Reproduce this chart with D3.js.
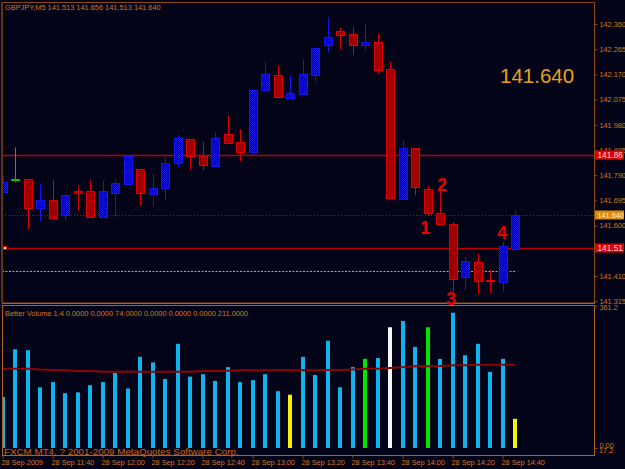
<!DOCTYPE html>
<html>
<head>
<meta charset="utf-8">
<script src="https://cdn.jsdelivr.net/npm/d3@7"></script>
<style>
    html, body { margin: 0; padding: 0; background: #040418; }
    svg { display: block; }
</style>
</head>
<body>
<script>
// Bars of GBPJPY M5, 28 Sep 2009 11:20 .. 14:45
const opens  = [141.729, 141.775, 141.776, 141.664, 141.696, 141.640, 141.732, 141.729, 141.632, 141.722,
                141.757, 141.813, 141.720, 141.742, 141.837, 141.925, 141.864, 141.826, 141.944, 141.914,
                141.877, 142.111, 142.168, 142.082, 142.097, 142.168, 142.278, 142.334, 142.322, 142.282,
                142.292, 142.190, 141.701, 141.891, 141.738, 141.647, 141.606, 141.406, 141.463, 141.394,
                141.388, 141.513];
const highs  = [141.787, 141.895, 141.776, 141.756, 141.771, 141.716, 141.753, 141.771, 141.769, 141.775,
                141.864, 141.813, 141.796, 141.857, 141.941, 141.925, 141.915, 141.953, 142.013, 141.964,
                142.110, 142.218, 142.203, 142.165, 142.226, 142.271, 142.385, 142.345, 142.348, 142.363,
                142.322, 142.218, 141.923, 141.891, 141.749, 141.727, 141.614, 141.482, 141.493, 141.435,
                141.539, 141.656];
const lows   = [141.723, 141.764, 141.587, 141.617, 141.625, 141.621, 141.656, 141.632, 141.630, 141.634,
                141.757, 141.674, 141.675, 141.693, 141.822, 141.810, 141.810, 141.826, 141.910, 141.842,
                141.867, 142.109, 142.086, 142.082, 142.092, 142.139, 142.254, 142.266, 142.242, 142.259,
                142.174, 141.705, 141.696, 141.714, 141.636, 141.606, 141.350, 141.356, 141.341, 141.346,
                141.351, 141.513];
const closes = [141.766, 141.775, 141.667, 141.696, 141.630, 141.714, 141.724, 141.632, 141.730, 141.761,
                141.864, 141.722, 141.743, 141.837, 141.930, 141.860, 141.830, 141.931, 141.910, 141.877,
                142.110, 142.171, 142.086, 142.099, 142.171, 142.271, 142.310, 142.320, 142.282, 142.292,
                142.188, 141.705, 141.893, 141.743, 141.646, 141.606, 141.400, 141.467, 141.391, 141.390,
                141.523, 141.640];

// Better Volume 1.4
const volumes = [129, 250, 248, 154, 167, 139, 141, 159, 167, 190,
                 151, 231, 217, 175, 264, 181, 187, 170, 205, 167,
                 172, 187, 144, 135, 231, 185, 272, 154, 205, 226,
                 228, 306, 322, 256, 306, 226, 343, 235, 264, 193,
                 226, 74];
const volumeTypes = ["n", "n", "n", "n", "n", "n", "n", "n", "n", "n",
                     "n", "n", "n", "n", "n", "n", "n", "n", "n", "n",
                     "n", "n", "n", "low", "n", "n", "n", "n", "n", "churn",
                     "n", "climax", "n", "n", "churn", "n", "n", "n", "n", "n",
                     "n", "low"];
const volumeAvg = [201, 201, 201, 199, 198, 197, 195, 195, 193, 193,
                   193, 193, 193, 193, 193, 193, 195, 195, 196, 197,
                   197, 197, 197, 197, 197, 197, 198, 198, 199, 201,
                   201, 203, 205, 207, 207, 208, 210, 210, 211, 211,
                   211, 211];

const priceTicks = [142.360, 142.265, 142.170, 142.075, 141.980, 141.885,
                    141.790, 141.695, 141.600, 141.505, 141.410, 141.315];
const hiddenTicks = [141.505]; // covered by the line tag
const timeTickBars = [0, 4, 8, 12, 16, 20, 24, 28, 32, 36, 40];
const timeLabels = ["28 Sep 2009", "28 Sep 11:40", "28 Sep 12:00", "28 Sep 12:20", "28 Sep 12:40",
                    "28 Sep 13:00", "28 Sep 13:20", "28 Sep 13:40", "28 Sep 14:00", "28 Sep 14:20",
                    "28 Sep 14:40"];

// horizontal objects drawn on the chart
const hLinePrices = [141.867, 141.516];
const hLineLabels = ["141.86", "141.51"];
const bidPrice = 141.640;
const dashedPrice = 141.430;

// hand written wave marks
const markTexts = ["1", "2", "3", "4"];
const markBars = [33.8, 35.16, 35.88, 39.96];
const markPrices = [141.568, 141.732, 141.301, 141.549];

const W = 625, H = 469;
const FRAME = "#8e4816";
const TXT = "#d2781e";
const FONT = "'Liberation Sans', Arial, sans-serif";

const priceY = d3.scaleLinear().domain([141.315, 142.360]).range([301.2, 24]);
const barX = d3.scaleLinear().domain([0, 41]).range([2.5, 515]);
const volY = d3.scaleLinear().domain([0, 361.2]).range([448, 305.5]);

const volColor = d3.scaleOrdinal()
    .domain(["n", "low", "churn", "climax"])
    .range(["#10b4ec", "#f4f400", "#00e400", "#f4f4f4"]);

const svg = d3.select("body").append("svg")
    .attr("width", W).attr("height", H)
    .style("font-family", FONT);

svg.append("rect").attr("width", W).attr("height", H).attr("fill", "#040418");

const defs = svg.append("defs");
// dithered fill for the candle bodies
function hatch(id, c) {
    const p = defs.append("pattern").attr("id", id)
        .attr("patternUnits", "userSpaceOnUse").attr("width", 2).attr("height", 2);
    p.append("rect").attr("width", 2).attr("height", 2).attr("fill", "#0a0420");
    p.append("rect").attr("x", 0).attr("y", 0).attr("width", 1).attr("height", 1).attr("fill", c);
    p.append("rect").attr("x", 1).attr("y", 1).attr("width", 1).attr("height", 1).attr("fill", c);
}
hatch("hatchBlue", "#1818e0");
hatch("hatchRed", "#b80000");

defs.append("clipPath").attr("id", "clipMain")
    .append("rect").attr("x", 3).attr("y", 3).attr("width", 591).attr("height", 300);
defs.append("clipPath").attr("id", "clipVol")
    .append("rect").attr("x", 3).attr("y", 306).attr("width", 591).attr("height", 149);

// ---- main window ----
const main = svg.append("g").attr("clip-path", "url(#clipMain)");

// horizontal lines
main.selectAll("line.hl").data(hLinePrices).join("line")
    .attr("class", "hl")
    .attr("x1", 2).attr("x2", 594)
    .attr("y1", (d) => Math.round(priceY(d)) + 0.5)
    .attr("y2", (d) => Math.round(priceY(d)) + 0.5)
    .attr("stroke", "#b80000").attr("stroke-width", 1.4);

main.append("line")
    .attr("x1", 2).attr("x2", 594)
    .attr("y1", Math.round(priceY(bidPrice)) + 0.5).attr("y2", Math.round(priceY(bidPrice)) + 0.5)
    .attr("stroke", "#4a3a30").attr("stroke-dasharray", "1,2");

main.append("line")
    .attr("x1", 2).attr("x2", barX(41))
    .attr("y1", Math.round(priceY(dashedPrice)) + 0.5).attr("y2", Math.round(priceY(dashedPrice)) + 0.5)
    .attr("stroke", "#a8a8a8").attr("stroke-width", 1.2).attr("stroke-dasharray", "2,1.5");

// candles
const candles = main.append("g").selectAll("g")
    .data(d3.range(opens.length))
    .join("g");

function candleColor(i) {
    if (opens[i] === closes[i]) return "#00c000";
    return closes[i] > opens[i] ? "#1414f0" : "#dc0000";
}

candles.append("line")
    .attr("x1", (i) => Math.round(barX(i)) + 0.5)
    .attr("x2", (i) => Math.round(barX(i)) + 0.5)
    .attr("y1", (i) => priceY(highs[i]))
    .attr("y2", (i) => priceY(lows[i]))
    .attr("stroke", candleColor);

candles.append("rect")
    .attr("x", (i) => Math.round(barX(i)) - 3.5)
    .attr("width", 8)
    .attr("y", (i) => Math.round(priceY(Math.max(opens[i], closes[i]))) + 0.5)
    .attr("height", (i) => Math.max(1, Math.round(Math.abs(priceY(opens[i]) - priceY(closes[i])))))
    .attr("fill", (i) => closes[i] > opens[i] ? "url(#hatchBlue)" : "url(#hatchRed)")
    .attr("stroke", candleColor);

// left end marker of the lower red line
main.append("rect")
    .attr("x", 3.5).attr("y", Math.round(priceY(hLinePrices[1])) - 1.5)
    .attr("width", 3).attr("height", 3)
    .attr("fill", "#ffffff").attr("stroke", "#e00000");

// big bid text
svg.append("text")
    .attr("x", 500).attr("y", 83)
    .attr("fill", "#eaa21a")
    .style("font-size", "20.5px")
    .text(d3.format(".3f")(bidPrice));

// title
svg.append("text")
    .attr("x", 5).attr("y", 10)
    .attr("fill", TXT).style("font-size", "7.4px")
    .text("GBPJPY,M5  " + [opens[41], highs[41], lows[41], closes[41]].map(d3.format(".3f")).join(" "));

// ---- volume window ----
const vol = svg.append("g").attr("clip-path", "url(#clipVol)");

vol.selectAll("rect").data(volumes).join("rect")
    .attr("x", (d, i) => Math.round(barX(i)) - 2)
    .attr("width", 4)
    .attr("y", (d) => volY(d))
    .attr("height", (d) => volY(0) - volY(d))
    .attr("fill", (d, i) => volColor(volumeTypes[i]));

vol.append("path")
    .datum(volumeAvg)
    .attr("d", d3.line().x((d, i) => barX(i)).y((d) => volY(d)))
    .attr("fill", "none")
    .attr("stroke", "#8a0606")
    .attr("stroke-width", 2);

svg.append("text")
    .attr("x", 5).attr("y", 316)
    .attr("fill", TXT).style("font-size", "7.4px")
    .text("Better Volume 1.4 0.0000 0.0000 " + d3.format(".4f")(volumes[41]) +
          " 0.0000 0.0000 0.0000 " + d3.format(".4f")(volumeAvg[41]));

svg.append("text")
    .attr("x", 4).attr("y", 455)
    .attr("fill", "#c86414").style("font-size", "9.8px")
    .text("FXCM MT4, ? 2001-2009 MetaQuotes Software Corp.");

// ---- frames ----
const frame = svg.append("g").attr("fill", "none").attr("stroke", FRAME);
frame.append("rect").attr("x", 2.5).attr("y", 2.5).attr("width", 592).attr("height", 300.5);
frame.append("line").attr("x1", 2).attr("x2", 2).attr("y1", 2).attr("y2", 303)
    .attr("stroke", "#6a3008").attr("stroke-width", 2);
frame.append("rect").attr("x", 2.5).attr("y", 305.5).attr("width", 592).attr("height", 150)
    .attr("stroke", "#b0621a");
frame.append("line").attr("x1", 2).attr("x2", 595).attr("y1", 303.5).attr("y2", 303.5)
    .attr("stroke", "#b0621a");

// ---- axes ----
function styleAxis(g) {
    g.selectAll(".domain").remove();
    g.selectAll("line").attr("stroke", FRAME);
    g.selectAll("text").attr("fill", TXT).style("font-size", "7.3px").style("font-family", FONT);
}

svg.append("g")
    .attr("transform", "translate(594.5,0)")
    .call(d3.axisRight(priceY).tickValues(priceTicks)
        .tickFormat((d) => (hiddenTicks.includes(d) ? "" : d3.format(".3f")(d)))
        .tickSize(3).tickPadding(2))
    .call(styleAxis);

svg.append("g")
    .attr("transform", "translate(594.5,0)")
    .call(d3.axisRight(volY).tickValues([361.2, 0])
        .tickFormat((d) => (d === 0 ? "0.00" : d3.format(".1f")(d)))
        .tickSize(3).tickPadding(2))
    .call(styleAxis)
    .call((g) => g.selectAll("text").attr("dy", (d) => (d === 0 ? "-0.1em" : "0.6em")));

svg.append("text")
    .attr("x", 599).attr("y", 453)
    .attr("fill", TXT).style("font-size", "7.3px")
    .text("17.2");

const tAxis = svg.append("g")
    .attr("transform", "translate(0,455.5)")
    .call(d3.axisBottom(barX).tickValues(timeTickBars)
        .tickFormat((d, i) => timeLabels[i]).tickSize(3).tickPadding(1))
    .call(styleAxis);
tAxis.selectAll("line").attr("transform", (d) => "translate(" + (Math.round(barX(d)) - barX(d) - 0.5) + ",0)");
tAxis.selectAll("text").attr("text-anchor", "start").attr("dx", "-1.5");

// ---- price labels on the axis ----
const tags = svg.append("g");
function priceTag(price, text, bg, fg, size) {
    const y = Math.round(priceY(price));
    tags.append("rect").attr("x", 595).attr("y", y - 4.5).attr("width", 29).attr("height", 9).attr("fill", bg);
    tags.append("text").attr("x", 597.5).attr("y", y + 3.3)
        .attr("fill", fg).style("font-size", size).text(text);
}
priceTag(hLinePrices[0], hLineLabels[0], "#e00000", "#ffd8d8", "8.3px");
priceTag(bidPrice, d3.format(".3f")(bidPrice), "#d88a10", "#fff0c8", "7.3px");
priceTag(hLinePrices[1], hLineLabels[1], "#e00000", "#ffd8d8", "8.3px");

// ---- wave marks ----
svg.append("g").selectAll("text").data(markTexts).join("text")
    .attr("x", (d, i) => barX(markBars[i]))
    .attr("y", (d, i) => priceY(markPrices[i]))
    .attr("text-anchor", "middle")
    .attr("fill", "#ee0000")
    .style("font-size", "17.5px").style("font-weight", "bold")
    .text((d) => d);
</script>
</body>
</html>
